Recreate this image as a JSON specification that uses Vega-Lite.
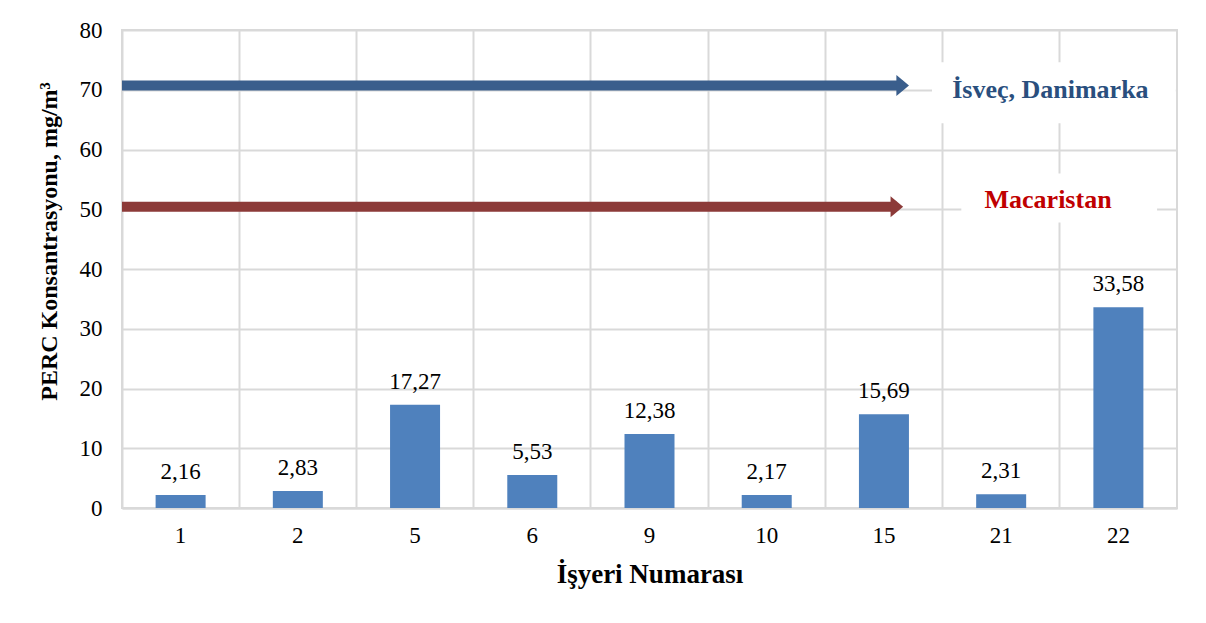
{
  "$schema": "https://vega.github.io/schema/vega-lite/v6.json",
  "width": 1055,
  "height": 478,
  "autosize": {"type": "none"},
  "padding": {"left": 122, "top": 30, "right": 29, "bottom": 115},
  "background": "white",
  "config": {
    "locale": {"number": {"decimal": ",", "thousands": ".", "grouping": [3], "currency": ["", " ₺"]}},
    "font": "Liberation Serif",
    "view": {"stroke": "#d9d9d9", "strokeWidth": 2},
    "axis": {
      "labelFont": "Liberation Serif",
      "labelFontSize": 23,
      "labelColor": "#000000",
      "titleFont": "Liberation Serif",
      "titleFontWeight": "bold",
      "titleColor": "#000000",
      "gridColor": "#d9d9d9",
      "gridWidth": 2,
      "ticks": false
    }
  },
  "datasets": {
    "perc": [
      {"isyeri": "1", "perc": 2.16},
      {"isyeri": "2", "perc": 2.83},
      {"isyeri": "5", "perc": 17.27},
      {"isyeri": "6", "perc": 5.53},
      {"isyeri": "9", "perc": 12.38},
      {"isyeri": "10", "perc": 2.17},
      {"isyeri": "15", "perc": 15.69},
      {"isyeri": "21", "perc": 2.31},
      {"isyeri": "22", "perc": 33.58}
    ],
    "limits": [
      {"ulke": "İsveç, Danimarka", "limit": 70.7, "bitis": 6.66},
      {"ulke": "Macaristan", "limit": 50.4, "bitis": 6.61}
    ]
  },
  "resolve": {"scale": {"x": "independent"}, "axis": {"x": "independent"}},
  "layer": [
    {
      "data": {"name": "perc"},
      "encoding": {
        "x": {
          "field": "isyeri",
          "type": "nominal",
          "sort": null,
          "scale": {"paddingInner": 0, "paddingOuter": 0},
          "axis": {
            "title": "İşyeri Numarası",
            "titleFontSize": 27,
            "titlePadding": 14,
            "labelAngle": 0,
            "labelPadding": 16,
            "grid": true,
            "bandPosition": 0,
            "domainColor": "#d9d9d9",
            "domainWidth": 2
          }
        },
        "y": {
          "field": "perc",
          "type": "quantitative",
          "scale": {"domain": [0, 80], "nice": false},
          "axis": {
            "title": "PERC Konsantrasyonu, mg/m³",
            "titleFontSize": 24,
            "titlePadding": 18,
            "titleY": 211,
            "values": [0, 10, 20, 30, 40, 50, 60, 70, 80],
            "labelPadding": 20,
            "domain": false,
            "grid": true
          }
        }
      },
      "layer": [
        {"mark": {"type": "bar", "width": 50, "color": "#4f81bd"}},
        {
          "mark": {"type": "text", "baseline": "alphabetic", "dy": -16, "fontSize": 23, "font": "Liberation Serif", "color": "#000000"},
          "encoding": {"text": {"field": "perc", "type": "quantitative", "format": ".2f"}}
        }
      ]
    },
    {
      "data": {"name": "limits"},
      "encoding": {
        "x": {"field": "bitis", "type": "quantitative", "scale": {"domain": [0, 9], "nice": false, "zero": false}, "axis": null},
        "y": {"field": "limit", "type": "quantitative"},
        "color": {
          "field": "ulke",
          "type": "nominal",
          "scale": {"domain": ["İsveç, Danimarka", "Macaristan"], "range": ["#3a5e8c", "#8c3a38"]},
          "legend": null
        }
      },
      "layer": [
        {
          "mark": {"type": "rule", "strokeWidth": 10},
          "encoding": {"x2": {"datum": 0}}
        },
        {
          "mark": {"type": "point", "filled": true, "opacity": 1, "shape": "M -0.6 -1 L 0.6 0 L -0.6 1 Z", "size": 441, "strokeWidth": 0}
        }
      ]
    },
    {
      "data": {"values": [{}]},
      "mark": {"type": "rect", "color": "white"},
      "encoding": {
        "x": {"datum": 6.91, "type": "quantitative", "scale": {"domain": [0, 9], "nice": false, "zero": false}, "axis": null},
        "x2": {"datum": 8.99},
        "y": {"datum": 74.6, "type": "quantitative"},
        "y2": {"datum": 64.4}
      }
    },
    {
      "data": {"values": [{}]},
      "mark": {"type": "rect", "color": "white"},
      "encoding": {
        "x": {"datum": 7.16, "type": "quantitative", "scale": {"domain": [0, 9], "nice": false, "zero": false}, "axis": null},
        "x2": {"datum": 8.83},
        "y": {"datum": 56.0, "type": "quantitative"},
        "y2": {"datum": 47.8}
      }
    },
    {
      "data": {"values": [{"ad": "İsveç, Danimarka"}]},
      "mark": {"type": "text", "font": "Liberation Serif", "fontWeight": "bold", "fontSize": 26, "color": "#2a4f7e", "baseline": "middle", "align": "center"},
      "encoding": {
        "x": {"datum": 7.92, "type": "quantitative", "scale": {"domain": [0, 9], "nice": false, "zero": false}, "axis": null},
        "y": {"datum": 69.9, "type": "quantitative"},
        "text": {"field": "ad", "type": "nominal"}
      }
    },
    {
      "data": {"values": [{"ad": "Macaristan"}]},
      "mark": {"type": "text", "font": "Liberation Serif", "fontWeight": "bold", "fontSize": 26, "color": "#c00000", "baseline": "middle", "align": "center"},
      "encoding": {
        "x": {"datum": 7.9, "type": "quantitative", "scale": {"domain": [0, 9], "nice": false, "zero": false}, "axis": null},
        "y": {"datum": 51.5, "type": "quantitative"},
        "text": {"field": "ad", "type": "nominal"}
      }
    }
  ]
}
